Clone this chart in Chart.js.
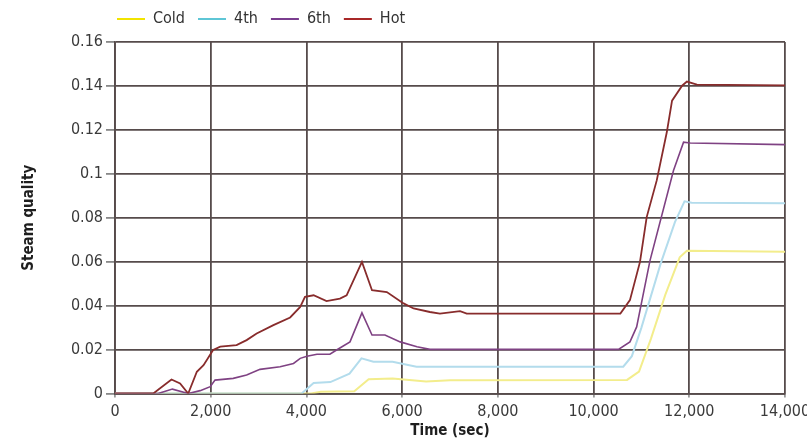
<!DOCTYPE html>
<html>
<head>
<meta charset="utf-8">
<script src="https://cdn.jsdelivr.net/npm/chart.js@4/dist/chart.umd.min.js"></script>
<style>
html,body{margin:0;padding:0;background:#fff;}
#wrap{width:807px;height:440px;position:relative;}
</style>
</head>
<body>
<div id="wrap"><canvas id="c" width="807" height="440"></canvas></div>
<script>
const seriesNames = ['Cold', '4th', '6th', 'Hot'];
const xTicks = [0, 2000, 4000, 6000, 8000, 10000, 12000, 14000];
const yTicks = [0, 0.02, 0.04, 0.06, 0.08, 0.1, 0.12, 0.14, 0.16];

const coldT = [0, 4100, 4300, 5000, 5300, 5800, 6500, 7000, 10700, 10950, 11200, 11500, 11800, 11950, 14000];
const coldQ = [0, 0, 0.0008, 0.001, 0.0065, 0.0068, 0.0055, 0.006, 0.0062, 0.010, 0.025, 0.045, 0.062, 0.065, 0.0645];

const fourthT = [0, 3900, 4150, 4500, 4900, 5150, 5400, 5800, 6300, 10620, 10800, 11000, 11400, 11700, 11900, 12050, 14000];
const fourthQ = [0, 0, 0.0048, 0.0052, 0.009, 0.016, 0.0145, 0.0144, 0.0122, 0.0122, 0.017, 0.030, 0.059, 0.078, 0.0875, 0.0868, 0.0866];

const sixthT = [0, 900, 1200, 1530, 1780, 1990, 2090, 2470, 2750, 3030, 3450, 3730, 3870, 4010, 4220, 4490, 4630, 4910, 5160, 5370, 5640, 5960, 6310, 6580, 10520, 10760, 10900, 11180, 11670, 11880, 12020, 14000];
const sixthQ = [0, 0, 0.002, 0, 0.0013, 0.0031, 0.0061, 0.0069, 0.0084, 0.011, 0.0122, 0.0137, 0.016, 0.017, 0.0179, 0.0179, 0.0198, 0.0235, 0.0367, 0.0266, 0.0266, 0.0235, 0.0213, 0.0201, 0.0201, 0.0235, 0.0303, 0.0606, 0.1015, 0.1144, 0.114, 0.1133];

const hotT = [0, 800, 1180, 1360, 1530, 1710, 1850, 2050, 2200, 2540, 2750, 2960, 3310, 3660, 3870, 3970, 4150, 4420, 4700, 4840, 5160, 5370, 5680, 6030, 6240, 6580, 6790, 7210, 7350, 10560, 10760, 10970, 11110, 11320, 11530, 11640, 11850, 11950, 12160, 14000];
const hotQ = [0, 0, 0.0064, 0.0046, 0, 0.0099, 0.0129, 0.0198, 0.0213, 0.022, 0.0243, 0.0273, 0.0311, 0.0346, 0.0394, 0.044, 0.0447, 0.0421, 0.0432, 0.0447, 0.0599, 0.047, 0.0462, 0.041, 0.0387, 0.0371, 0.0364, 0.0375, 0.0364, 0.0364, 0.0425, 0.0599, 0.0803, 0.097, 0.1189, 0.1333, 0.1401, 0.142, 0.1406, 0.1403];

const lineColors = ['#f3ed8c', '#b3dcec', '#7f4283', '#882c2c'];
const legendColors = ['#f2e400', '#5ec6d6', '#7a3d8f', '#a82828'];

function pts(t, q) { return t.map((v, i) => ({x: v, y: q[i]})); }

const FONT = "'DejaVu Sans Condensed', 'DejaVu Sans', sans-serif";
const GRID = '#564b4b';

const shiftLegend = {
  id: 'shiftLegend',
  afterLayout(chart) {
    const lg = chart.legend;
    if (lg) { lg.left = 104; lg.top = -2; }
  }
};

new Chart(document.getElementById('c'), {
  type: 'line',
  data: {
    datasets: [
      {label: seriesNames[0], data: pts(coldT, coldQ), borderColor: lineColors[0], borderWidth: 2, order: 4},
      {label: seriesNames[1], data: pts(fourthT, fourthQ), borderColor: lineColors[1], borderWidth: 2, order: 3},
      {label: seriesNames[2], data: pts(sixthT, sixthQ), borderColor: lineColors[2], borderWidth: 1.6, order: 2},
      {label: seriesNames[3], data: pts(hotT, hotQ), borderColor: lineColors[3], borderWidth: 1.8, order: 1}
    ]
  },
  options: {
    responsive: false,
    animation: false,
    elements: {point: {radius: 0}, line: {tension: 0}},
    layout: {padding: {left: 0, right: 22, top: 3, bottom: 0}},
    plugins: {
      tooltip: {enabled: false},
      legend: {
        position: 'top',
        align: 'start',
        labels: {
          boxWidth: 28,
          boxHeight: 2,
          padding: 13,
          color: '#333',
          font: {family: FONT, size: 16, lineHeight: 1},
          generateLabels(chart) {
            return chart.data.datasets.map((ds, i) => ({
              text: ds.label,
              fillStyle: legendColors[i],
              strokeStyle: legendColors[i],
              lineWidth: 0,
              hidden: false,
              datasetIndex: i,
              fontColor: '#333'
            }));
          }
        }
      }
    },
    scales: {
      x: {
        type: 'linear',
        min: 0,
        max: 14000,
        afterBuildTicks(scale) { scale.ticks = xTicks.map(v => ({value: v})); },
        afterFit(scale) { scale.height = 46.5; scale.paddingRight = 0; scale.paddingLeft = 0; },
        grid: {color: GRID, lineWidth: 1.8, tickLength: 4, tickColor: '#999'},
        border: {color: GRID, width: 1.8},
        ticks: {
          color: '#3a3a3a',
          padding: 5,
          maxRotation: 0,
          font: {family: FONT, size: 16},
          callback: v => v.toLocaleString('en-US')
        },
        title: {
          display: true,
          text: 'Time (sec)',
          color: '#1e1e1e',
          font: {family: FONT, size: 15, weight: 'bold', lineHeight: 1},
          padding: {top: 0, bottom: 1}
        }
      },
      y: {
        min: 0,
        max: 0.16,
        afterBuildTicks(scale) { scale.ticks = yTicks.map(v => ({value: v})); },
        afterFit(scale) { scale.width = 115; },
        grid: {color: GRID, lineWidth: 1.8, tickLength: 9, tickColor: '#888'},
        border: {color: GRID, width: 1.8},
        ticks: {
          color: '#3a3a3a',
          padding: 3,
          font: {family: FONT, size: 16},
          callback: v => String(Number(v.toFixed(2)))
        },
        title: {
          display: true,
          text: 'Steam quality',
          color: '#1e1e1e',
          font: {family: FONT, size: 15, weight: 'bold', lineHeight: 1},
          padding: {top: 22, bottom: 0}
        }
      }
    }
  },
  plugins: [shiftLegend]
});
</script>
</body>
</html>
